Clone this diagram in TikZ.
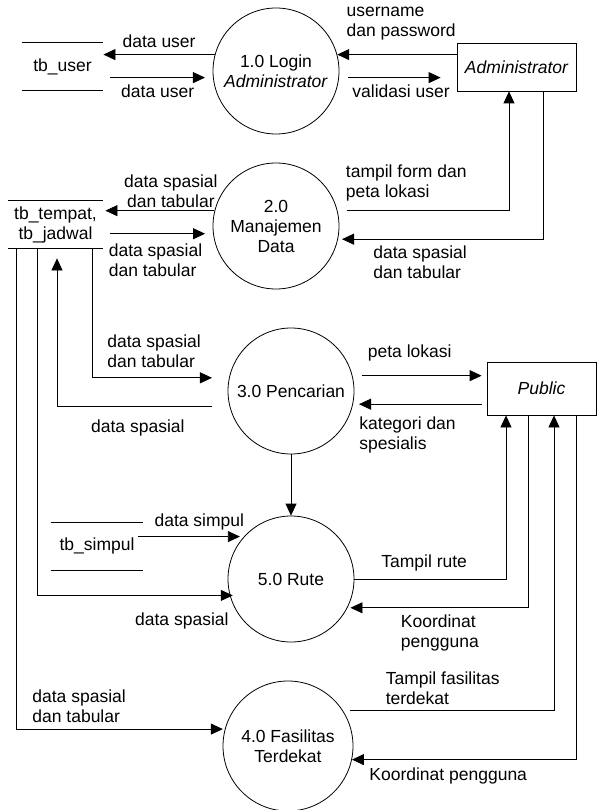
\documentclass[tikz,border=0pt]{standalone}
\usepackage{fontspec}
\setmainfont{Liberation Sans}
\usetikzlibrary{arrows.meta,positioning,calc}
\newcommand{\dfdfont}{\fontsize{17.5}{20}\selectfont}

\begin{document}
\begin{tikzpicture}[x=1pt,y=-1pt,font=\dfdfont,line width=0.8pt,
  proc/.style={circle,draw,minimum size=126pt,inner sep=0pt,align=center},
  ent/.style={draw,font=\dfdfont\itshape,minimum width=119pt,minimum height=48pt},
  store/.style={minimum width=#1,minimum height=47pt,inner sep=0pt,align=center},
  lbl/.style={inner sep=0pt,align=left},
  flow/.style={-{Triangle[length=12pt,width=11pt]}}]
\useasboundingbox (0,0) rectangle (597,810);

% proses
\node[proc] (login) at (276,71) {1.0 Login\\\textit{Administrator}};
\node[proc] (manaj) at (276,226) {2.0\\Manajemen\\Data};
\node[proc] (cari) at (291,391) {3.0 Pencarian};
\node[proc] (rute) at (291,579) {5.0 Rute};
\node[proc,minimum size=130pt] (fasil) at (288,746) {4.0 Fasilitas\\Terdekat};

% entitas luar
\node[ent] (admin) at (516.5,67) {Administrator};
\node[ent,minimum width=109pt,minimum height=53pt] (public) at (541.5,388.5) {Public};

% data store
\node[store=81pt] (tbuser) at (62.5,66.5) {tb\_user};
\node[store=95pt] (tbtempat) at (55.5,224.5) {tb\_tempat,\\tb\_jadwal};
\node[store=92pt] (tbsimpul) at (97,546) {tb\_simpul};
\foreach \s in {tbuser,tbtempat,tbsimpul}
  \draw (\s.north west) -- (\s.north east) (\s.south west) -- (\s.south east);

% login
\draw[flow] (login.165) -- node[above=3pt]{data user} (login.165 -| tbuser.east);
\draw[flow] ($(login.186 -| tbuser.east)+(7,0)$) -- node[below=3pt]{data user} ($(login.186)+(-8,0)$);
\draw[flow] (login.15 -| admin.west) -- (login.15)
  node[lbl,anchor=south west,pos=1,xshift=9pt,yshift=14pt]{username\\dan password};
\draw[flow] ($(login.354)+(9,0)$) -- ($(login.354 -| admin.west)+(-16,0)$)
  node[lbl,anchor=north west,pos=0,xshift=4pt,yshift=-7pt]{validasi user};

% manajemen data
\draw[flow] (manaj.166) -- ($(manaj.166 -| tbtempat.east)+(2,0)$)
  node[lbl,align=center,anchor=south,pos=0.4,yshift=3pt]{data spasial\\dan tabular};
\draw[flow] ($(manaj.187 -| tbtempat.east)+(7,0)$) -- ($(manaj.187)+(-8,0)$)
  node[lbl,anchor=north west,pos=0,xshift=-2pt,yshift=-10pt]{data spasial\\dan tabular};
\draw[flow] ($(manaj.14)+(9,0)$) -| ([xshift=-7.5pt]admin.south)
  node[lbl,anchor=south west,pos=0,xshift=-1pt,yshift=9pt]{tampil form dan\\peta lokasi};
\draw[flow] ([xshift=26.5pt]admin.south) |- ($(manaj.348)+(4,0)$)
  node[lbl,anchor=north west,pos=1,xshift=31pt,yshift=-6pt]{data spasial\\dan tabular};

% pencarian
\draw[flow] ($(cari.194)+(-17,0)$) -| ([shift={(1.5,10)}]tbtempat.south)
  node[lbl,anchor=north,pos=0.24,yshift=-13pt]{data spasial};
\draw[flow] ([xshift=36.5pt]tbtempat.south) |- ($(cari.168)+(-17,0)$)
  node[lbl,anchor=south west,pos=0.5,xshift=15pt,yshift=10pt]{data spasial\\dan tabular};
\draw[flow] ($(cari.14)+(9,0)$) -- ($(cari.14 -| public.west)+(-5,0)$)
  node[lbl,anchor=south west,pos=0,xshift=6pt,yshift=14pt]{peta lokasi};
\draw[flow] ($(cari.348 -| public.west)+(-5,0)$) -- ($(cari.348)+(6,0)$)
  node[lbl,anchor=north west,pos=1,yshift=-12pt]{kategori dan\\spesialis};
\draw[flow] (cari.south) -- (rute.north);

% rute
\draw[flow] ([xshift=-18.5pt]tbtempat.south) |- ($(rute.195)+(3,0)$)
  node[lbl,anchor=north,pos=0.87,yshift=-17pt]{data spasial};
\draw[flow] ($(tbsimpul.east |- rute.138)+(-5,0)$) -- ($(rute.138)+(-4,0)$)
  node[lbl,anchor=south,pos=0.6,yshift=6pt]{data simpul};
\draw[flow] (rute.east) -| ([xshift=-35.5pt]public.south)
  node[lbl,anchor=south,pos=0.23,yshift=7pt]{Tampil rute};
\draw[flow] ([xshift=-13.5pt]public.south) |- ($(rute.333)+(3,0)$)
  node[lbl,anchor=north west,pos=1,xshift=50pt,yshift=-7pt]{Koordinat\\pengguna};

% fasilitas terdekat
\draw[flow] ([xshift=-39.5pt]tbtempat.south) |- ($(fasil.165)+(-2,0)$)
  node[lbl,anchor=south west,pos=0.5,xshift=16pt,yshift=6pt]{data spasial\\dan tabular};
\draw[flow] ($(fasil.33)+(7.5,0)$) -| ([xshift=12.5pt]public.south)
  node[lbl,anchor=south west,pos=0,xshift=35pt,yshift=5pt]{Tampil fasilitas\\terdekat};
\draw[flow] ([xshift=34.5pt]public.south) |- (fasil.348)
  node[lbl,anchor=north west,pos=1,xshift=17pt,yshift=-8pt]{Koordinat pengguna};
\end{tikzpicture}
\end{document}
